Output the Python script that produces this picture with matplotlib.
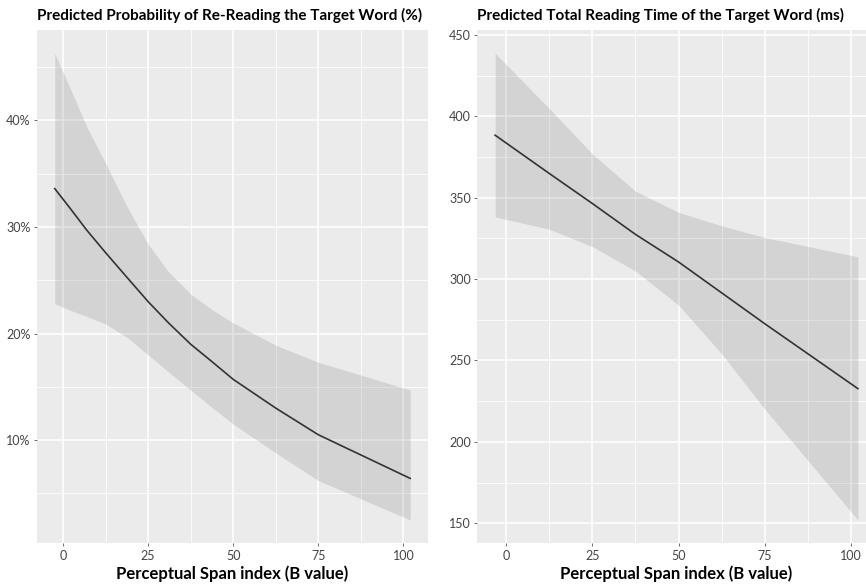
import numpy as np
import matplotlib
matplotlib.use("Agg")
import matplotlib.pyplot as plt
from matplotlib.ticker import PercentFormatter, MultipleLocator

plt.rcParams['font.family'] = ['Lato', 'DejaVu Sans']

# left panel: probability of re-reading (%)
span_prob = [-2.4, 2, 7, 12.5, 19, 25, 31, 37.5, 44, 50, 62.5, 75, 102]
prob_fit = [33.6, 31.8, 29.7, 27.6, 25.2, 23.0, 21.0, 19.0, 17.3, 15.7, 13.0, 10.5, 6.4]
prob_hi = [46.3, 43.1, 39.4, 36.0, 31.8, 28.4, 25.8, 23.7, 22.2, 21.0, 18.9, 17.3, 14.7]
prob_lo = [22.8, 22.2, 21.6, 20.9, 19.6, 18.0, 16.4, 14.7, 13.0, 11.5, 8.8, 6.2, 2.5]

# right panel: total reading time (ms)
span_time = [-3.1, 12.5, 25, 37.5, 50, 62.5, 75, 101.9]
time_fit = [388.4, 365.0, 346.5, 327.5, 310.5, 291.5, 272.5, 232.7]
time_hi = [438.7, 405.0, 377.0, 354.0, 341.0, 332.7, 325.5, 313.7]
time_lo = [338.2, 330.7, 320.0, 305.0, 284.0, 254.0, 220.0, 152.0]

x_ticks = [0, 25, 50, 75, 100]
bg = '#EBEBEB'


def style_panel(ax, title):
    ax.set_facecolor(bg)
    for s in ax.spines.values():
        s.set_visible(False)
    ax.xaxis.set_minor_locator(MultipleLocator(12.5))
    ax.grid(which='major', color='white', linewidth=1.1)
    ax.grid(which='minor', color='white', linewidth=0.55)
    ax.set_axisbelow(True)
    ax.tick_params(which='major', length=2.5, width=0.6, color='#555555',
                   labelsize=9, labelcolor='#444444', pad=2)
    ax.tick_params(which='minor', length=0)
    ax.set_title(title, loc='left', fontsize=11, fontweight='bold', pad=7)
    ax.set_xlabel("Perceptual Span index (B value)", fontsize=12,
                  fontweight='bold', labelpad=3)
    ax.margins(0.05)


fig = plt.figure(figsize=(8.66, 5.85), dpi=100)
ax1 = fig.add_axes([37/866, 0.0713, 391/866, 0.8774])
ax2 = fig.add_axes([477/866, 0.0713, 399/866, 0.8774])

ax1.fill_between(span_prob, prob_lo, prob_hi, color='black', alpha=0.1, lw=0)
ax1.plot(span_prob, prob_fit, color='#333333', lw=1.2)
style_panel(ax1, "Predicted Probability of Re-Reading the Target Word (%)")
ax1.yaxis.set_major_locator(MultipleLocator(10))
ax1.yaxis.set_minor_locator(MultipleLocator(5))
ax1.yaxis.set_major_formatter(PercentFormatter(decimals=0))

ax2.fill_between(span_time, time_lo, time_hi, color='black', alpha=0.1, lw=0)
ax2.plot(span_time, time_fit, color='#333333', lw=1.2)
style_panel(ax2, "Predicted Total Reading Time of the Target Word (ms)")
ax2.yaxis.set_major_locator(MultipleLocator(50))
ax2.yaxis.set_minor_locator(MultipleLocator(25))

for ax in (ax1, ax2):
    ax.set_xticks(x_ticks)

fig.savefig("out.png", dpi=100)
